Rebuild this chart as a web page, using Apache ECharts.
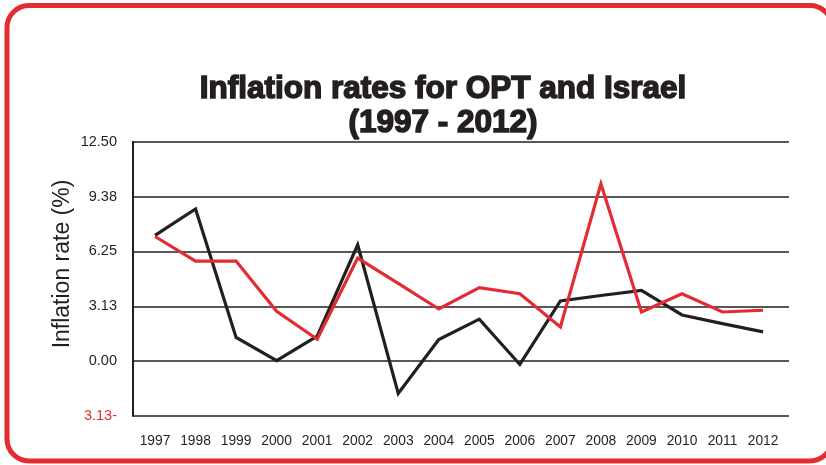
<!DOCTYPE html>
<html>
<head>
<meta charset="utf-8">
<script src="https://cdn.jsdelivr.net/npm/echarts@6/dist/echarts.min.js"></script>
<style>
html,body{margin:0;padding:0;background:#fff;}
#chart{width:826px;height:465px;}
</style>
</head>
<body>
<div id="chart"></div>
<script>
var years = [1997, 1998, 1999, 2000, 2001, 2002, 2003, 2004, 2005, 2006, 2007, 2008, 2009, 2010, 2011, 2012];
var israel = [7.16, 8.67, 1.35, 0.03, 1.42, 6.63, -1.84, 1.23, 2.39, -0.19, 3.43, 3.74, 4.03, 2.63, 2.14, 1.67];
var opt = [7.10, 5.70, 5.70, 2.84, 1.25, 5.87, 4.43, 2.97, 4.19, 3.84, 1.95, 10.10, 2.80, 3.84, 2.80, 2.90];
var yTicks = [-3.125, 0, 3.125, 6.25, 9.375, 12.5];
var titleLines = ['Inflation rates for OPT and Israel', '(1997 - 2012)'];
var yName = 'Inflation rate (%)';

var DARK = '#231f20';
var RED = '#e52b32';

function pairs(vals) {
  return years.map(function (y, i) { return [y, vals[i]]; });
}

var chart = echarts.init(document.getElementById('chart'), null, {renderer: 'canvas'});
chart.setOption({
  backgroundColor: '#fff',
  animation: false,
  grid: {left: 133, right: 37, top: 141.7, bottom: 49},
  xAxis: {
    type: 'value',
    min: 1996.457,
    max: 2012.64,
    axisLine: {show: false},
    axisTick: {show: false},
    splitLine: {show: false},
    axisLabel: {
      customValues: years,
      formatter: function (v) { return String(Math.round(v)); },
      fontFamily: 'Liberation Sans, Arial, sans-serif',
      fontSize: 13.8,
      color: DARK,
      margin: 18
    }
  },
  yAxis: {
    type: 'value',
    min: yTicks[0],
    max: yTicks[yTicks.length - 1],
    interval: 3.125,
    axisLine: {show: true, lineStyle: {color: DARK, width: 2}},
    axisTick: {show: false},
    splitLine: {show: true, lineStyle: {color: DARK, width: 1.6}},
    axisLabel: {
      margin: 16,
      fontFamily: 'Liberation Sans, Arial, sans-serif',
      fontSize: 14.5,
      color: DARK,
      formatter: function (v) {
        if (v < 0) return '{neg|' + Math.abs(v).toFixed(2) + '-}';
        return v.toFixed(2);
      },
      rich: {
        neg: {color: RED, fontSize: 14.5, fontFamily: 'Liberation Sans, Arial, sans-serif'}
      }
    }
  },
  series: [
    {
      name: 'Israel',
      type: 'line',
      data: pairs(israel),
      symbol: 'none',
      lineStyle: {color: DARK, width: 3.2, join: 'miter'},
      z: 3
    },
    {
      name: 'OPT',
      type: 'line',
      data: pairs(opt),
      symbol: 'none',
      lineStyle: {color: RED, width: 3.2, join: 'miter'},
      z: 4
    }
  ],
  graphic: [
    {
      type: 'rect',
      shape: {x: 7, y: 5.5, width: 825, height: 455.5, r: 22},
      style: {fill: 'none', stroke: RED, lineWidth: 5},
      silent: true,
      z: 10
    },
    {
      type: 'text',
      x: 443, y: 89,
      style: {
        text: titleLines[0],
        font: 'bold 31.5px "Liberation Sans", Arial, sans-serif',
        fill: DARK,
        stroke: DARK,
        lineWidth: 1.5,
        textAlign: 'center',
        textVerticalAlign: 'middle'
      }
    },
    {
      type: 'text',
      x: 443, y: 123,
      style: {
        text: titleLines[1],
        font: 'bold 31.5px "Liberation Sans", Arial, sans-serif',
        fill: DARK,
        stroke: DARK,
        lineWidth: 1.5,
        textAlign: 'center',
        textVerticalAlign: 'middle'
      }
    },
    {
      type: 'text',
      x: 63, y: 264,
      rotation: Math.PI / 2,
      style: {
        text: yName,
        font: '23px "Liberation Sans", Arial, sans-serif',
        fill: DARK,
        textAlign: 'center',
        textVerticalAlign: 'middle'
      }
    }
  ]
});
</script>
</body>
</html>
